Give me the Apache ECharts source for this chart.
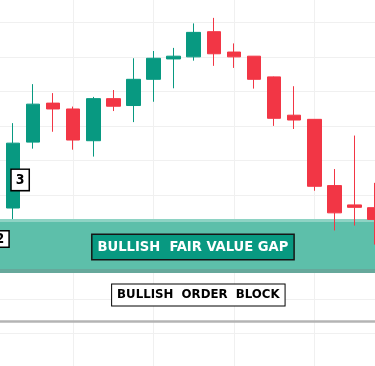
<!DOCTYPE html>
<html><head><meta charset="utf-8">
<script src="https://cdn.jsdelivr.net/npm/echarts@6/dist/echarts.min.js"></script>
<style>html,body{margin:0;padding:0;background:#fff;overflow:hidden;width:375px;height:366px;position:relative}
#c{position:absolute;left:-20px;top:-20px;width:415px;height:406px}</style>
</head><body><div id="c"></div>
<script>
// candle -1 .. 18 (index 0 is the partly hidden candle "2")
const categories = ['c-1','c0','c1','c2','c3','c4','c5','c6','c7','c8','c9','c10','c11','c12','c13','c14','c15','c16','c17','c18'];
const opens  = [24.6, 46.3, 65.4, 76.7, 75.0, 65.8, 78.0, 76.0, 83.6, 89.5, 90.1, 97.4, 91.5, 90.3, 84.3, 73.2, 72.0, 52.8, 47.2, 46.4];
const closes = [45.7, 65.1, 76.4, 75.0, 66.0, 78.0, 75.8, 83.6, 89.7, 90.3, 97.2, 91.0, 90.1, 83.6, 72.3, 71.8, 52.6, 44.9, 46.5, 43.0];
const lows   = [24.0, 43.1, 63.5, 68.4, 63.2, 61.2, 74.4, 71.2, 77.1, 81.0, 89.0, 87.5, 86.9, 80.9, 70.1, 69.2, 51.3, 39.8, 41.2, 35.7];
const highs  = [46.0, 70.9, 82.2, 79.6, 75.7, 78.5, 80.5, 89.7, 91.8, 92.7, 99.8, 101.4, 94.0, 90.3, 84.4, 81.6, 72.0, 57.6, 67.3, 53.6];

const yMin = 0, yMax = 110, yInterval = 10;
const fvgTopEdge = [42.25, 43.12];
const fvgBody = [28.63, 42.25];
const fvgBottomEdge = [27.47, 28.63];
const orderBlockLine = 13.56;

const labelTexts = ['BULLISH  FAIR VALUE GAP', 'BULLISH  ORDER  BLOCK', '3', '2'];
const labelCats = ['c9', 'c9', 'c0', 'c-1'];
const labelPrices = [35.0, 21.1, 54.45, 37.32];

const GREEN = '#089981', RED = '#f23645';
const FONT = "'Liberation Sans Narrow', 'DejaVu Sans Condensed', 'Liberation Sans', sans-serif";

const candleData = categories.map((c, i) => [opens[i], closes[i], lows[i], highs[i]]);

const chart = echarts.init(document.getElementById('c'), null, {renderer: 'canvas'});
chart.setOption({
  animation: false,
  backgroundColor: '#ffffff',
  grid: {left: 2.8, right: 10.4, top: 8.2, bottom: 18.2, containLabel: false},
  xAxis: {
    type: 'category', data: categories, boundaryGap: true,
    axisLine: {show: false}, axisTick: {show: false}, axisLabel: {show: false},
    splitLine: {show: true, alignWithLabel: true, interval: (idx) => idx > 0 && idx % 4 === 0,
      lineStyle: {color: '#f0f0f0', width: 1}}
  },
  yAxis: {
    type: 'value', min: yMin, max: yMax, interval: yInterval, scale: false,
    axisLine: {show: false}, axisTick: {show: false}, axisLabel: {show: false},
    splitLine: {show: true, lineStyle: {color: '#f0f0f0', width: 1}}
  },
  series: [{
    type: 'candlestick',
    data: candleData,
    barWidth: 14,
    itemStyle: {color: GREEN, color0: RED, borderColor: GREEN, borderColor0: RED, borderWidth: 1},
    markArea: {
      silent: true,
      label: {show: false},
      data: [
        [{yAxis: fvgBody[0], itemStyle: {color: '#5dbfaa'}}, {yAxis: fvgBody[1]}],
        [{yAxis: fvgTopEdge[0], itemStyle: {color: '#8ed3c4'}}, {yAxis: fvgTopEdge[1]}],
        [{yAxis: fvgBottomEdge[0], itemStyle: {color: '#66a89b'}}, {yAxis: fvgBottomEdge[1]}]
      ]
    },
    markLine: {
      silent: true, symbol: 'none', label: {show: false},
      lineStyle: {color: '#b4b4b4', width: 2.5, type: 'solid'},
      data: [{yAxis: orderBlockLine}]
    },
    markPoint: {
      silent: true, symbol: 'rect', symbolSize: 0,
      data: [
        {coord: [labelCats[0], labelPrices[0]], label: {show: true, position: 'inside', offset: [-0.8, 0], formatter: labelTexts[0],
          color: '#ffffff', fontWeight: 'bold', fontSize: 14.6, fontFamily: FONT, lineHeight: 18,
          backgroundColor: GREEN, borderColor: '#161616', borderWidth: 1.5, padding: [3, 5, 3, 5]}},
        {coord: [labelCats[1], labelPrices[1]], label: {show: true, position: 'inside', offset: [4.6, 0], formatter: labelTexts[1],
          color: '#000000', fontWeight: 'bold', fontSize: 13.1, fontFamily: FONT, lineHeight: 17,
          backgroundColor: '#ffffff', borderColor: '#000000', borderWidth: 1, padding: [2, 5, 2, 5]}},
        {coord: [labelCats[2], labelPrices[2]], label: {show: true, position: 'inside', offset: [7.2, 0], formatter: labelTexts[2],
          color: '#000000', fontWeight: 'bold', fontSize: 14, fontFamily: FONT, lineHeight: 16,
          backgroundColor: '#ffffff', borderColor: '#000000', borderWidth: 1.5, padding: [2, 4, 2, 4]}},
        {coord: [labelCats[3], labelPrices[3]], label: {show: true, position: 'inside', offset: [7.1, 0], formatter: labelTexts[3],
          color: '#000000', fontWeight: 'bold', fontSize: 14, fontFamily: FONT, lineHeight: 13,
          backgroundColor: '#ffffff', borderColor: '#000000', borderWidth: 1.5, padding: [1, 4, 1, 4]}}
      ]
    }
  }]
});
</script></body></html>
